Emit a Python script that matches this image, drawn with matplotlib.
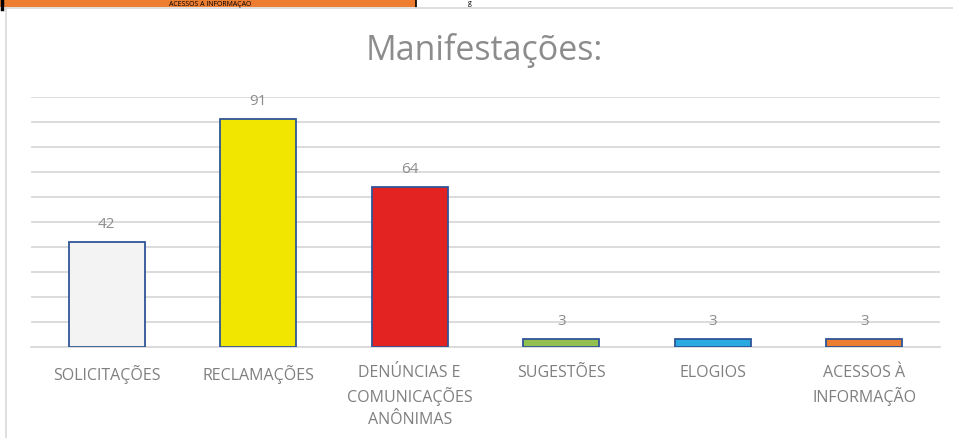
import numpy as np
import matplotlib.pyplot as plt
from matplotlib.patches import Rectangle

# Data
categories = ['SOLICITAÇÕES', 'RECLAMAÇÕES', 'DENÚNCIAS E\nCOMUNICAÇÕES\nANÔNIMAS',
              'SUGESTÕES', 'ELOGIOS', 'ACESSOS À\nINFORMAÇÃO']
values = [42, 91, 64, 3, 3, 3]
colors = ['#f3f3f3', '#f1e600', '#e32321', '#92c050', '#29abe2', '#ed7d31']

plt.rcParams['font.family'] = ['Open Sans', 'DejaVu Sans']

W, H = 954, 439
fig = plt.figure(figsize=(W / 100, H / 100), dpi=100)

# strip of the sheet above the chart (only its lower edge is in view)
fig.patches.append(Rectangle((0, 1 - 7.5 / H), 416 / W, 7.5 / H, transform=fig.transFigure,
                             facecolor='#ed7d31', edgecolor='none', zorder=0))
fig.lines.append(plt.Line2D([416 / W, 416 / W], [1 - 8 / H, 1], transform=fig.transFigure,
                            color='black', lw=1.2))
fig.lines.append(plt.Line2D([1.5 / W, 1.5 / W], [1 - 10 / H, 1], transform=fig.transFigure,
                            color='black', lw=2.5))
fig.text(210 / W, 1 - 3.8 / H, 'ACESSOS À INFORMAÇÃO', ha='center', va='center',
         fontsize=5, color='black')
fig.text(470 / W, 1 - 3.8 / H, 'g', ha='center', va='center', fontsize=5, color='black')

# chart frame lines
fig.lines.append(plt.Line2D([6 / W, 1], [1 - 8.5 / H, 1 - 8.5 / H], transform=fig.transFigure,
                            color='#d9d9d9', lw=1.2))
fig.lines.append(plt.Line2D([6 / W, 6 / W], [0, 1 - 8.5 / H], transform=fig.transFigure,
                            color='#d9d9d9', lw=1.2))

ax = fig.add_axes([31 / W, 91 / H, 909 / W, 250.3 / H])
x = np.arange(len(categories))
ax.bar(x, values, width=0.5, color=colors, edgecolor='#2f5597', linewidth=1.3, zorder=3)

for xi, v in zip(x, values):
    ax.annotate(str(v), (xi, v), xytext=(0, 8), textcoords='offset points',
                ha='center', va='bottom', fontsize=11, color='#8c8c8c')

ax.set_xlim(-0.5, len(categories) - 0.5)
ax.set_ylim(0, 100)
ax.set_yticks(np.arange(0, 101, 10))
ax.yaxis.grid(True, color='#d9d9d9', lw=1.3, zorder=0)
ax.set_yticklabels([])
ax.tick_params(axis='y', length=0)
ax.set_xticks(x)
ax.set_xticklabels(categories, fontsize=11.5, color='#7f7f7f', linespacing=1.45)
ax.tick_params(axis='x', length=0, pad=12)
for s in ['top', 'right', 'left']:
    ax.spines[s].set_visible(False)
ax.spines['bottom'].set_color('#d9d9d9')
ax.spines['bottom'].set_linewidth(1.3)

fig.text(484 / W, 1 - 60 / H, 'Manifestações:', ha='center', va='baseline',
         fontsize=24.5, color='#8c8c8c')

fig.savefig('out.png', dpi=100)
